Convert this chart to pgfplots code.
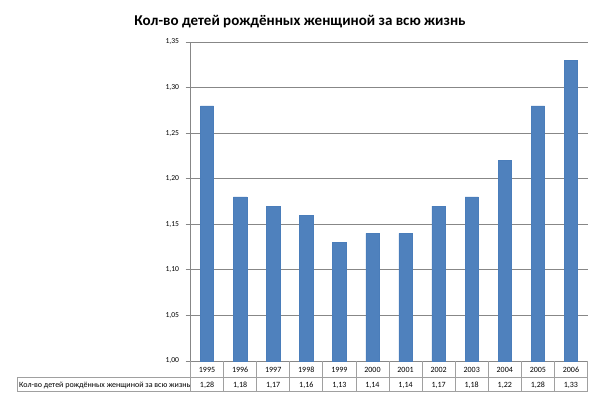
\documentclass[border=0pt]{standalone}
\usepackage{pgfplots}
\pgfplotsset{compat=1.18}
\usepackage{fontspec}
\setmainfont{Carlito}
\definecolor{barblue}{HTML}{4F81BD}
\definecolor{bardraw}{HTML}{4A7DBA}
\definecolor{gridgray}{HTML}{878787}
\definecolor{tablegray}{HTML}{A0A0A0}
\begin{document}
\begin{tikzpicture}[x=1pt,y=1pt]
\useasboundingbox (0,0) rectangle (600,400);
\node[font=\bfseries\fontsize{15}{18}\selectfont, anchor=base] at (300,374) {Кол-во детей рождённых женщиной за всю жизнь};
\begin{axis}[
  at={(190.5pt,39pt)}, anchor=south west, scale only axis,
  width=397pt, height=319pt,
  xmin=-0.5, xmax=11.5, ymin=1, ymax=1.35,
  ytick={1,1.05,1.1,1.15,1.2,1.25,1.3,1.35},
  xtick=\empty,
  ybar, bar width=13.3pt,
  axis x line*=bottom, axis y line*=left,
  axis line style={gridgray, line width=0.8pt},
  ymajorgrids, grid style={gridgray, line width=0.8pt},
  tick align=outside, major tick length=5pt,
  ytick style={gridgray, line width=0.8pt},
  yticklabel style={font=\fontsize{7.6}{9}\selectfont, xshift=-3pt},
  /pgf/number format/.cd, fixed, fixed zerofill, precision=2, use comma, assume math mode=true,
  /pgfplots/.cd,
  clip=false,
]
\addplot[fill=barblue, draw=bardraw, line width=0.5pt] coordinates {
(0,1.28) (1,1.18) (2,1.17) (3,1.16) (4,1.13) (5,1.14) (6,1.14) (7,1.17) (8,1.18) (9,1.22) (10,1.28) (11,1.33)};
\end{axis}
% data table
\begin{scope}[tablegray, line width=0.8pt]
\draw (17,23) -- (587.5,23);
\draw (17,9) -- (587.5,9);
\draw (17,9) -- (17,23);
\foreach \i in {0,...,12} {\draw ({190.5+33.083*\i},39) -- ({190.5+33.083*\i},9);}
\end{scope}
\foreach \y [count=\i from 0] in {1995,1996,1997,1998,1999,2000,2001,2002,2003,2004,2005,2006} {
  \node[font=\fontsize{8}{9}\selectfont, anchor=base] at ({190.5+33.083*\i+16.54},28) {\y};
}
\foreach \v [count=\i from 0] in {1{,}28,1{,}18,1{,}17,1{,}16,1{,}13,1{,}14,1{,}14,1{,}17,1{,}18,1{,}22,1{,}28,1{,}33} {
  \node[font=\fontsize{8}{9}\selectfont, anchor=base] at ({190.5+33.083*\i+16.54},13) {\v};
}
\begin{scope}
\clip (17,9) rectangle (190.5,23);
\node[font=\fontsize{8}{9}\selectfont, anchor=base west, inner sep=0pt] at (19,13) {Кол-во детей рождённых женщиной за всю жизнь};
\end{scope}
\end{tikzpicture}
\end{document}
